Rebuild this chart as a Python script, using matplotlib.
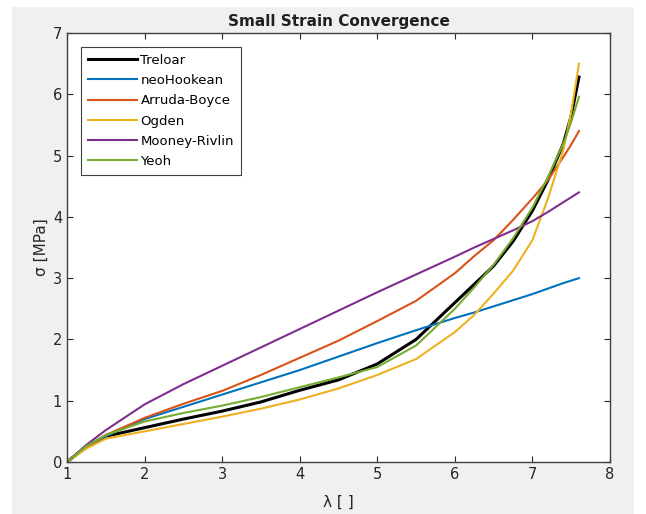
import matplotlib.pyplot as plt
from matplotlib.patches import Rectangle

plt.rcParams["font.family"] = ["DejaVu Sans"]

# stretch values
lam = [1, 1.25, 1.5, 2, 2.5, 3, 3.5, 4, 4.5, 5, 5.5, 6, 6.25, 6.5, 6.75, 7, 7.2, 7.4, 7.5, 7.6]

treloar = [0, 0.25, 0.42, 0.56, 0.70, 0.83, 0.98, 1.17, 1.34, 1.60, 2.00, 2.60, 2.90, 3.20, 3.60, 4.10, 4.60, 5.20, 5.65, 6.28]
neo_hookean = [0, 0.25, 0.42, 0.70, 0.90, 1.10, 1.30, 1.50, 1.72, 1.94, 2.15, 2.35, 2.44, 2.54, 2.64, 2.74, 2.83, 2.92, 2.96, 3.00]
arruda_boyce = [0, 0.25, 0.44, 0.72, 0.95, 1.16, 1.42, 1.70, 1.98, 2.30, 2.63, 3.08, 3.36, 3.62, 3.95, 4.30, 4.60, 4.98, 5.18, 5.40]
ogden = [0, 0.22, 0.38, 0.50, 0.62, 0.74, 0.87, 1.02, 1.20, 1.42, 1.68, 2.12, 2.40, 2.75, 3.12, 3.62, 4.30, 5.10, 5.70, 6.50]
mooney_rivlin = [0, 0.28, 0.52, 0.94, 1.27, 1.57, 1.87, 2.17, 2.47, 2.77, 3.06, 3.35, 3.50, 3.64, 3.78, 3.93, 4.08, 4.24, 4.32, 4.40]
yeoh = [0, 0.26, 0.44, 0.66, 0.80, 0.92, 1.06, 1.22, 1.38, 1.55, 1.90, 2.50, 2.85, 3.22, 3.65, 4.15, 4.65, 5.20, 5.55, 5.96]

series = [
    ("Treloar", treloar, "black", 2.2),
    ("neoHookean", neo_hookean, "#0072BD", 1.5),
    ("Arruda-Boyce", arruda_boyce, "#D95319", 1.5),
    ("Ogden", ogden, "#EDB120", 1.5),
    ("Mooney-Rivlin", mooney_rivlin, "#7E2F8E", 1.5),
    ("Yeoh", yeoh, "#77AC30", 1.5),
]

fig = plt.figure(figsize=(6.46, 5.14), dpi=100, facecolor="white")
fig.patches.append(Rectangle((12 / 646, 0), 622 / 646, 507 / 514, transform=fig.transFigure,
                             facecolor="#f0f0f0", edgecolor="none", zorder=-10))
ax = fig.add_axes([67 / 646, 1 - 462 / 514, 543 / 646, 429 / 514])
ax.set_facecolor("white")

for name, vals, color, lw in series:
    ax.plot(lam, vals, color=color, linewidth=lw, label=name)

ax.set_xlim(1, 8)
ax.set_ylim(0, 7)
ax.set_xticks(range(1, 9))
ax.set_yticks(range(0, 8))
ax.tick_params(direction="in", length=4, top=True, right=True, labelsize=10.5,
               colors="#262626", width=0.8)
for sp in ax.spines.values():
    sp.set_color("#404040")
    sp.set_linewidth(1.0)

ax.set_title("Small Strain Convergence", fontsize=11, fontweight="bold", color="#202020", pad=5)
ax.set_xlabel("λ [ ]", fontsize=11, color="#262626", labelpad=9)
ax.set_ylabel("σ [MPa]", fontsize=11, color="#262626", labelpad=3)

leg = ax.legend(loc="upper left", bbox_to_anchor=(0.026, 0.967), borderaxespad=0,
                fontsize=9.5, handlelength=3.7, labelspacing=0.55, handletextpad=0.3,
                fancybox=False, framealpha=1, edgecolor="#404040", borderpad=0.5)
leg.get_frame().set_linewidth(0.8)

fig.savefig("out.png", dpi=100, facecolor=fig.get_facecolor())
